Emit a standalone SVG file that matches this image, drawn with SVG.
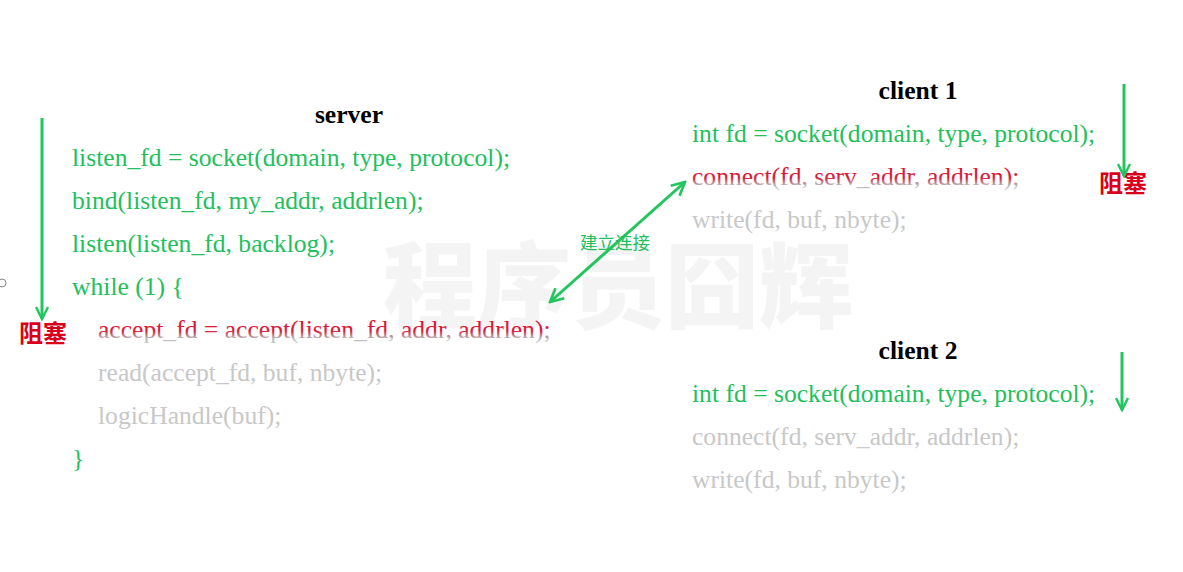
<svg xmlns="http://www.w3.org/2000/svg" width="1183" height="572" viewBox="0 0 1183 572">
  <defs>
    <style>
      .code { font-family: "Liberation Serif", "Times New Roman", serif; font-size: 25.6px; }
      .title { font-family: "Liberation Serif", "Times New Roman", serif; font-size: 25.6px; font-weight: bold; fill: #000; text-anchor: middle; }
      .green { fill: #22bf5c; }
      .gray { fill: #c8c8c8; }
      .red { fill: url(#redfade); }
      .block { font-family: "Noto Sans CJK SC", "Noto Sans", sans-serif; font-size: 24px; font-weight: bold; fill: #d9001b; }
      .arrow { stroke: #22c55e; stroke-width: 3; fill: none; }
      .watermark { font-family: "Noto Sans CJK SC", sans-serif; font-size: 94px; font-weight: 900; fill: #f4f4f4; }
      .label { font-family: "Noto Sans CJK SC", sans-serif; font-size: 17.5px; fill: #22bf5c; }
    </style>
    <linearGradient id="redfade" x1="0" y1="0" x2="0" y2="1">
      <stop offset="0" stop-color="#e0102a"/>
      <stop offset="0.55" stop-color="#d8203a"/>
      <stop offset="0.8" stop-color="#b8b8b8"/>
      <stop offset="1" stop-color="#cccccc"/>
    </linearGradient>
    <marker id="ah" viewBox="0 0 10 10" refX="9" refY="5" markerWidth="5" markerHeight="5" orient="auto-start-reverse" markerUnits="strokeWidth">
      <path d="M1,1 L9,5 L1,9" fill="none" stroke="#22c55e" stroke-width="1.6"/>
    </marker>
    <marker id="ah2" viewBox="0 0 10 10" refX="9" refY="5" markerWidth="5.5" markerHeight="5.5" orient="auto-start-reverse" markerUnits="strokeWidth">
      <path d="M1,1 L9,5 L1,9" fill="none" stroke="#22c55e" stroke-width="1.6"/>
    </marker>
  </defs>
  <rect width="1183" height="572" fill="#ffffff"/>

  <text class="watermark" x="383" y="321">程序员囧辉</text>

  <circle cx="2" cy="283" r="4" fill="none" stroke="#888" stroke-width="1"/>

  <g id="server">
    <text class="title" x="349" y="123">server</text>
    <text class="code green" x="72" y="166">listen_fd = socket(domain, type, protocol);</text>
    <text class="code green" x="72" y="209">bind(listen_fd, my_addr, addrlen);</text>
    <text class="code green" x="72" y="252">listen(listen_fd, backlog);</text>
    <text class="code green" x="72" y="295">while (1) {</text>
    <text class="code red" x="98" y="338">accept_fd = accept(listen_fd, addr, addrlen);</text>
    <text class="code gray" x="98" y="381">read(accept_fd, buf, nbyte);</text>
    <text class="code gray" x="98" y="424">logicHandle(buf);</text>
    <text class="code green" x="72" y="467">}</text>
    <text class="block" x="19" y="342">阻塞</text>
  </g>

  <g id="client1">
    <text class="title" x="918" y="99">client 1</text>
    <text class="code green" x="692" y="142">int fd = socket(domain, type, protocol);</text>
    <text class="code red" x="692" y="185">connect(fd, serv_addr, addrlen);</text>
    <text class="code gray" x="692" y="228">write(fd, buf, nbyte);</text>
    <text class="block" x="1099" y="192">阻塞</text>
  </g>

  <g id="client2">
    <text class="title" x="918" y="359">client 2</text>
    <text class="code green" x="692" y="402">int fd = socket(domain, type, protocol);</text>
    <text class="code gray" x="692" y="445">connect(fd, serv_addr, addrlen);</text>
    <text class="code gray" x="692" y="488">write(fd, buf, nbyte);</text>
  </g>

  <g id="connectors">
    <line class="arrow" x1="42" y1="118" x2="42" y2="319" marker-end="url(#ah)"/>
    <line class="arrow" x1="1124" y1="84" x2="1124" y2="176" marker-end="url(#ah)"/>
    <line class="arrow" x1="1122" y1="352" x2="1122" y2="410" marker-end="url(#ah)"/>
    <line class="arrow" x1="550" y1="302" x2="685" y2="182" marker-start="url(#ah2)" marker-end="url(#ah2)" stroke-width="2"/>
    <text class="label" x="580" y="249">建立连接</text>
  </g>
</svg>
